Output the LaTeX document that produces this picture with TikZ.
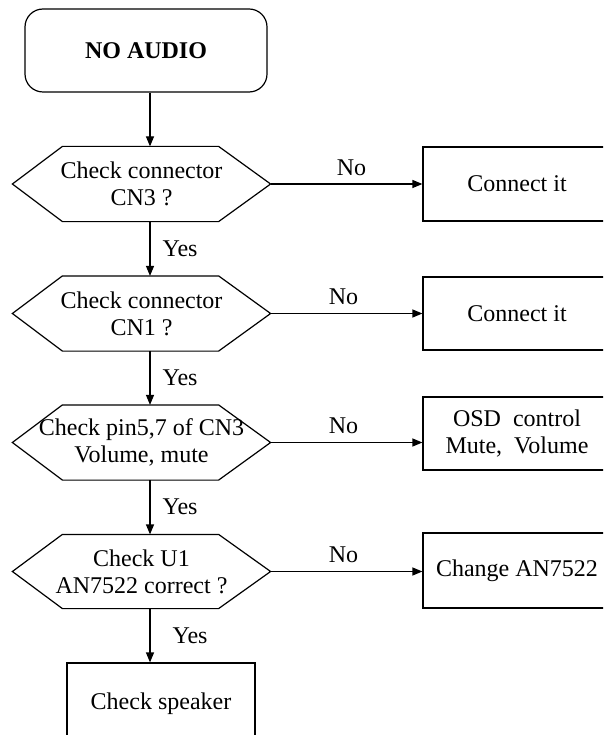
\documentclass[tikz,border=0pt]{standalone}
\usepackage{fontspec}
\setmainfont{Liberation Serif}
\usetikzlibrary{arrows.meta}
\newcommand{\hexline}[1]{\draw (#1.west) -- ([xshift=50pt]#1.north west) -- ([xshift=-52pt]#1.north east) -- (#1.east) -- ([xshift=-52pt]#1.south east) -- ([xshift=50pt]#1.south west) -- cycle;}
\begin{document}
\begin{tikzpicture}[x=1pt,y=-1pt,line width=1.2pt,
  txt/.style={font=\fontsize{24}{27}\selectfont},
  box/.style={draw,txt,minimum width=188pt,minimum height=74pt,inner sep=0pt,align=center},
  hexbox/.style={txt,minimum width=257pt,minimum height=74pt,inner sep=0pt,align=center},
  arr/.style={-{Triangle[length=10pt,width=8pt]}},
  lbl/.style={txt,inner sep=0pt}]
\useasboundingbox (0,0) rectangle (603,735);
\clip (0,0) rectangle (603,735);
\coordinate (spine) at (150,0);
% start
\node[draw,rounded corners=18pt,minimum width=242pt,minimum height=83pt,inner sep=0pt,
  font=\bfseries\fontsize{24}{27}\selectfont] (start) at (146,50.5) {NO AUDIO};
% decisions
\node[hexbox] (h1) at (141.5,184) {Check connector\\CN3 ?};
\hexline{h1}
\node[hexbox] (h2) at (141.5,313.5) {Check connector\\CN1 ?};
\hexline{h2}
\node[hexbox] (h3) at (141.5,442.5) {Check pin5,7 of CN3\\Volume, mute};
\hexline{h3}
\node[hexbox,minimum height=73pt] (h4) at (141.5,571.5) {Check U1\\AN7522 correct ?};
\hexline{h4}
% actions
\node[box] (b1) at (517,184) {Connect it};
\node[box,minimum height=73pt] (b2) at (517,313.5) {Connect it};
\node[box,minimum height=73pt] (b3) at (517,433.5) {OSD\hspace{0.5em}control\\Mute,\hspace{0.5em}Volume};
\node[box,minimum height=75pt] (b4) at (517,570.5) {Change AN7522};
\node[box,minimum height=82pt] (cs) at (161,704) {Check speaker};
% connectors
\draw[arr] (start.south -| spine) -- (h1.north -| spine);
\draw[arr] (h1.south -| spine) -- node[lbl,right=12pt] {Yes} (h2.north -| spine);
\draw[arr] (h2.south -| spine) -- node[lbl,right=12pt] {Yes} (h3.north -| spine);
\draw[arr] (h3.south -| spine) -- node[lbl,right=12pt] {Yes} (h4.north -| spine);
\draw[arr] (h4.south -| spine) -- node[lbl,right=22pt] {Yes} (cs.north -| spine);
\draw[arr] (h1.east) -- node[lbl,above=8pt,xshift=5pt] {No} (h1.east -| b1.west);
\draw[arr] (h2.east) -- node[lbl,above=8pt,xshift=-3pt] {No} (h2.east -| b2.west);
\draw[arr] (h3.east) -- node[lbl,above=8pt,xshift=-3pt] {No} (h3.east -| b3.west);
\draw[arr] (h4.east) -- node[lbl,above=8pt,xshift=-3pt] {No} (h4.east -| b4.west);
\end{tikzpicture}
\end{document}
